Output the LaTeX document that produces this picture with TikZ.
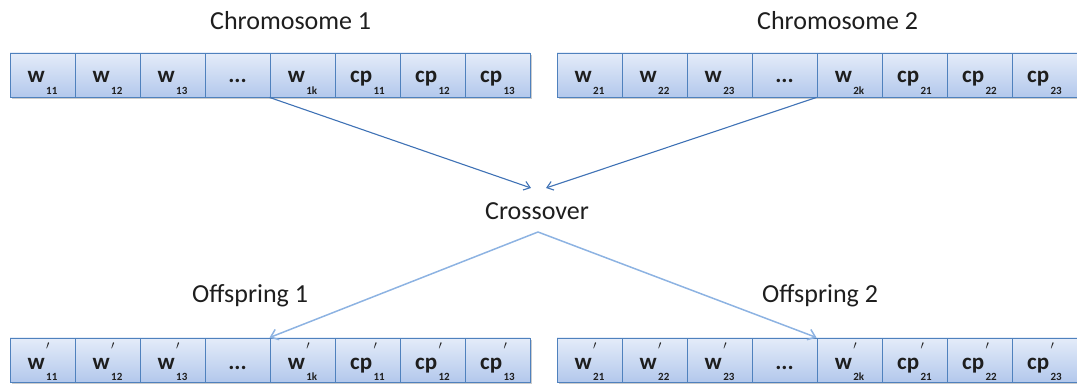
\documentclass[tikz,border=0pt]{standalone}
\usepackage{fontspec}
\setmainfont{Carlito}
\usetikzlibrary{arrows.meta,calc}

\definecolor{cellline}{HTML}{4F81BD}
\definecolor{celltop}{HTML}{E4ECF9}
\definecolor{cellbot}{HTML}{B3C8EC}
\definecolor{ink}{HTML}{1E1E1E}
\definecolor{darrow}{HTML}{3F72B5}
\definecolor{larrow}{HTML}{8DB3E2}

% gene label with a lowered index
\newcommand\gsub[2]{#1\kern1.5pt\smash{\raisebox{-12pt}{\fontsize{11}{11}\selectfont #2}}}
% gene label with a prime over a lowered index
\newcommand\gpr[2]{#1\kern1.5pt\rlap{\smash{\raisebox{20pt}{\fontsize{12}{12}\selectfont$\prime$}}}\smash{\raisebox{-11pt}{\fontsize{11}{11}\selectfont #2}}}
% the elided middle genes
\newcommand\gdots{...}

% one row of eight gene cells: prefix, left edge, vertical centre, cell style, labels
\newcommand\generow[5]{%
  \fill[black!20] (#2+1.5,#3-20) rectangle (#2+521.5,#3+24.5);
  \foreach \t [count=\i] in {#5}
    \node[#4] (#1\i) at ({#2+32.5+65*(\i-1)},#3) {\t};}

\tikzset{
  cell/.style={draw=cellline, line width=0.9pt, top color=celltop, bottom color=cellbot,
    minimum width=65pt, minimum height=44pt, inner sep=0pt, text=ink,
    font=\fontsize{23}{23}\selectfont\bfseries, text height=16pt, text depth=0pt},
  pcell/.style={cell, text height=20pt},
  title/.style={text=ink, font=\fontsize{26}{26}\selectfont, inner sep=0pt, anchor=base west},
  toparrow/.style={draw=darrow, line width=1.1pt, -{Straight Barb[length=6pt,width=9pt]}},
  lowarrow/.style={draw=larrow, line width=1.5pt, -{Straight Barb[length=7pt,width=11pt]}}
}

\begin{document}
\begin{tikzpicture}[x=1pt,y=-1pt]
\useasboundingbox (0,0) rectangle (1077,387);

% parent chromosomes
\generow{a}{10}{75}{cell}{\gsub{w}{11},\gsub{w}{12},\gsub{w}{13},\gdots,\gsub{w}{1k},\gsub{cp}{11},\gsub{cp}{12},\gsub{cp}{13}}
\generow{b}{557}{75}{cell}{\gsub{w}{21},\gsub{w}{22},\gsub{w}{23},\gdots,\gsub{w}{2k},\gsub{cp}{21},\gsub{cp}{22},\gsub{cp}{23}}

% offspring
\generow{c}{10}{360}{pcell}{\gpr{w}{11},\gpr{w}{12},\gpr{w}{13},\gdots,\gpr{w}{1k},\gpr{cp}{11},\gpr{cp}{12},\gpr{cp}{13}}
\generow{d}{557}{360}{pcell}{\gpr{w}{21},\gpr{w}{22},\gpr{w}{23},\gdots,\gpr{w}{2k},\gpr{cp}{21},\gpr{cp}{22},\gpr{cp}{23}}

% titles
\node[title] (t1) at (210,30) {Chromosome 1};
\node[title] (t2) at (757,30) {Chromosome 2};
\node[title] (cross) at (485,220) {Crossover};
\node[title] (o1) at (192,303) {Offspring 1};
\node[title] (o2) at (762,303) {Offspring 2};

% crossover connectors
\coordinate (inL) at (531,188);
\coordinate (inR) at (546,188);
\coordinate (apex) at (538,232);
\draw[toparrow] (a5.south west) -- (inL);
\draw[toparrow] (b5.south west) -- (inR);
\draw[lowarrow] (apex) -- (c5.north west);
\draw[lowarrow] (apex) -- (d5.north west);
\end{tikzpicture}
\end{document}
